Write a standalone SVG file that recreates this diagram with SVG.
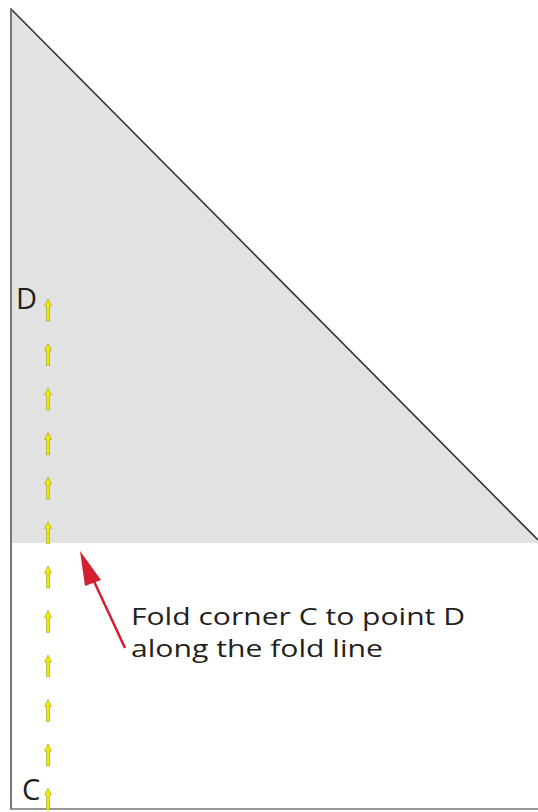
<svg xmlns="http://www.w3.org/2000/svg" width="538" height="812" viewBox="0 0 538 812">
<style>
.lbl{font-family:"Open Sans","Noto Sans",sans-serif;fill:#231f20;font-size:23.5px}
.pt{font-family:"Open Sans","Noto Sans",sans-serif;fill:#231f20;font-size:29px}
.ya{fill:#f2ea00;stroke:#a09a20;stroke-width:0.6}
</style>
<defs>
<path id="ya" class="ya" d="M0,0 L3.5,7 L1.5,7 L1.5,22 L-1.5,22 L-1.5,7 L-3.5,7 Z"/>
</defs>
<rect width="538" height="812" fill="#ffffff"/>
<g id="panel">
<polygon points="11,9 538,540 538,543 11,543" fill="#e2e2e2"/>
<line x1="11" y1="9" x2="538" y2="540" stroke="#333" stroke-width="1.6"/>
<line x1="11" y1="8" x2="11" y2="809" stroke="#777" stroke-width="2"/>
<line x1="10" y1="809" x2="538" y2="809" stroke="#777" stroke-width="1.5"/>
</g>
<g id="fold-line">
<use href="#ya" x="48" y="299"/>
<use href="#ya" x="48" y="343.5"/>
<use href="#ya" x="48" y="388"/>
<use href="#ya" x="48" y="432.5"/>
<use href="#ya" x="48" y="477"/>
<use href="#ya" x="48" y="521.5"/>
<use href="#ya" x="48" y="566"/>
<use href="#ya" x="48" y="610.5"/>
<use href="#ya" x="48" y="655"/>
<use href="#ya" x="48" y="699.5"/>
<use href="#ya" x="48" y="744"/>
<use href="#ya" x="48" y="788"/>
</g>
<g id="labels">
<text class="pt" x="16" y="309">D</text>
<text class="pt" x="22" y="800">C</text>
<text class="lbl" x="131" y="625" textLength="334" lengthAdjust="spacingAndGlyphs">Fold corner C to point D</text>
<text class="lbl" x="131" y="657" textLength="252" lengthAdjust="spacingAndGlyphs">along the fold line</text>
</g>
<g id="connectors">
<line x1="125" y1="648" x2="92" y2="577" stroke="#d2202e" stroke-width="2.5"/>
<polygon points="80,551 101,580 85,586" fill="#d2202e"/>
</g>
</svg>
